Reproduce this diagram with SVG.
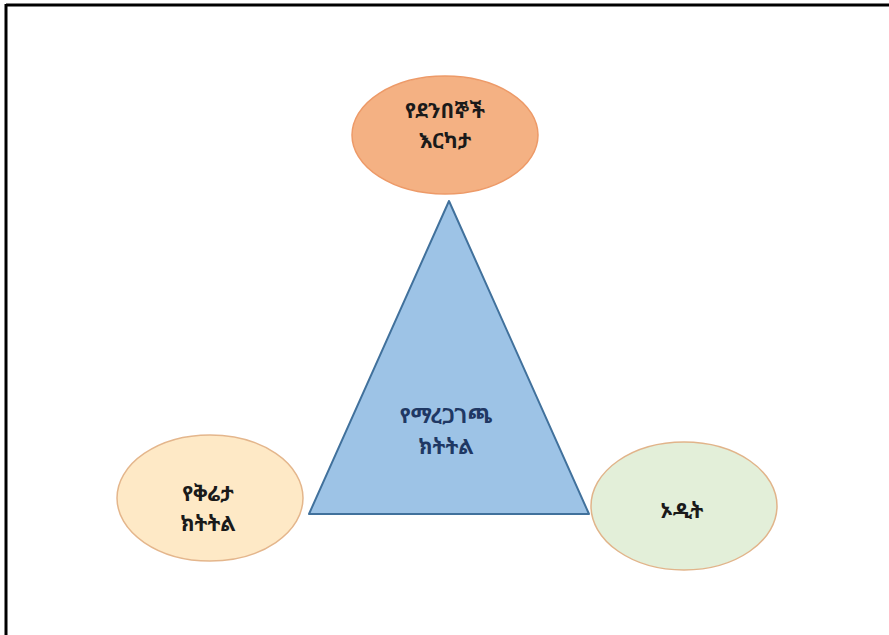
<svg xmlns="http://www.w3.org/2000/svg" width="889" height="635" viewBox="0 0 889 635">
<style>
.lbl{font-family:"Noto Sans Ethiopic","Abyssinica SIL","Noto Serif Ethiopic","DejaVu Sans","Noto Sans",sans-serif;font-size:21px;text-anchor:middle;font-weight:bold}
.dark{fill:#1a1a1a}
.blue{fill:#1f3864}
</style>
<rect width="889" height="635" fill="#ffffff"/>
<g id="frame" stroke="#000" stroke-width="3" fill="none">
<line x1="6" y1="5" x2="889" y2="5"/>
<line x1="6" y1="4" x2="6" y2="635"/>
</g>
<g id="connectors"></g>
<g id="triangle">
<polygon points="449,201 309,514 589,514" fill="#9dc3e6" stroke="#41719c" stroke-width="2" stroke-linejoin="round"/>
<text class="lbl blue" x="446" y="423">የማረጋገጫ</text>
<text class="lbl blue" x="446" y="454">ክትትል</text>
</g>
<g id="top">
<ellipse cx="445" cy="135" rx="93" ry="59" fill="#f4b183" stroke="#ed9a68" stroke-width="1.5"/>
<text class="lbl dark" x="445" y="118">የደንበኞች</text>
<text class="lbl dark" x="445" y="148">እርካታ</text>
</g>
<g id="left">
<ellipse cx="210" cy="498" rx="93" ry="63" fill="#fee9c6" stroke="#e4b68c" stroke-width="1.5"/>
<text class="lbl dark" x="208" y="501">የቅሬታ</text>
<text class="lbl dark" x="208" y="531">ክትትል</text>
</g>
<g id="right">
<ellipse cx="684" cy="506" rx="93" ry="64" fill="#e3efd9" stroke="#e1b48a" stroke-width="1.5"/>
<text class="lbl dark" x="682" y="518">ኦዲት</text>
</g>
</svg>
